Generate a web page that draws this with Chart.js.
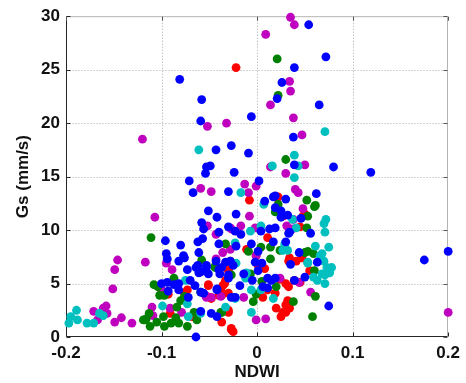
<!DOCTYPE html>
<html><head><meta charset="utf-8">
<script src="https://cdn.jsdelivr.net/npm/chart.js@4/dist/chart.umd.min.js"></script>
<style>html,body{margin:0;padding:0;background:#fff}#wrap{width:466px;height:383px}</style>
</head><body><div id="wrap"><canvas id="c" width="466" height="383"></canvas></div>
<script>
const xTickLabels = ['-0.2','-0.1','0','0.1','0.2'];
const yTickLabels = ['0','5','10','15','20','25','30'];
const xTitle = 'NDWI';
const yTitle = 'Gs (mm/s)';

const blue = [[-0.081,24.1],[-0.058,22.2],[-0.059,20.2],[-0.043,17.5],[-0.027,17.9],[-0.053,15.9],[-0.049,16.0],[-0.054,15.3],[-0.024,15.4],[-0.071,14.6],[-0.067,13.5],[-0.030,13.6],
[0.054,29.2],[0.072,26.2],[0.039,25.2],[0.026,23.8],[0.021,22.3],[0.065,21.7],[-0.006,20.6],[0.038,18.7],[-0.009,17.2],[0.039,16.1],[0.080,15.9],[0.119,15.4],[0.002,14.6],[0.062,13.4],[0.019,13.2],[0.030,12.9],[0.008,12.7],[0.017,13.1],
[-0.051,11.8],[-0.042,11.2],[-0.058,10.7],[-0.040,9.8],[-0.022,11.5],[-0.023,9.9],[-0.056,10.1],[-0.030,10.3],[-0.017,9.6],[0.013,10.1],[0.019,12.1],[0.032,11.4],[0.025,11.2],[0.046,11.1],[0.025,11.8],[0.004,9.9],[0.019,10.2],[0.034,9.8],[0.056,9.7],[0.033,9.7],
[-0.096,9.0],[-0.080,8.6],[-0.062,8.9],[-0.057,9.2],[-0.040,8.7],[-0.022,8.5],[-0.006,8.7],[0.001,8.0],[0.030,8.9],[0.017,8.9],[0.044,7.9],
[-0.095,7.8],[-0.094,7.3],[-0.082,7.1],[-0.076,7.4],[-0.077,7.6],[-0.061,7.9],[-0.043,7.1],[-0.073,6.3],[-0.062,6.7],[-0.061,6.0],[-0.053,6.5],[-0.051,5.9],[-0.037,6.5],[-0.039,5.9],[-0.025,6.7],[-0.064,6.5],[-0.059,6.1],[-0.033,7.0],[-0.028,7.1],[-0.002,7.0],[-0.014,5.9],[-0.018,4.8],[0.011,5.5],[-0.042,4.5],[-0.056,4.1],[-0.027,3.7],[-0.053,6.7],[-0.040,6.3],[-0.005,5.3],[0.001,6.2],[0.011,4.6],[-0.030,5.8],
[-0.100,5.0],[-0.094,5.1],[-0.082,5.0],[-0.087,4.9],[-0.093,4.3],[-0.082,4.4],[-0.059,4.2],[-0.072,3.7],[-0.042,4.4],[-0.030,5.5],[-0.023,3.7],[-0.059,2.4],[-0.048,2.2],[-0.042,1.9],[-0.064,0.0],[-0.065,4.8],[-0.070,5.3],
[0.063,7.0],[0.050,5.6],[0.039,5.3],[0.015,5.3],[0.019,5.5],[0.006,4.7],[0.075,2.9],[0.175,7.2],[0.200,8.0],[0.035,6.8],[0.005,6.9]];

const cyan = [[-0.061,17.5],[0.071,19.2],[0.039,17.0],[0.043,16.0],[0.016,16.0],[0.039,14.9],[-0.017,13.5],
[0.007,12.4],[0.004,10.4],[0.041,10.2],[0.070,10.6],[0.072,11.0],[0.071,9.8],[0.037,11.0],[-0.023,8.8],[-0.007,9.9],[0.029,8.5],[0.032,8.1],[0.027,8.1],[0.029,8.7],[0.061,8.5],[0.075,8.4],[0.068,7.8],[0.070,7.1],[0.066,7.6],[0.053,7.0],
[0.073,6.5],[0.078,6.5],[0.076,6.0],[0.071,5.8],[0.059,5.6],[0.063,5.3],[0.071,5.0],[0.068,5.9],[0.053,6.9],
[-0.022,6.9],[-0.012,5.5],[0.004,4.4],[-0.023,3.7],[-0.033,2.8],[-0.006,2.3],[0.017,3.6],[-0.075,5.3],[-0.099,2.9],[-0.073,3.1],[-0.072,1.9],[-0.059,2.2],[-0.023,3.6],[-0.011,6.0],[-0.006,4.4],
[-0.197,1.3],[-0.195,1.9],[-0.189,2.5],[-0.188,1.6],[-0.178,1.3],[-0.171,1.3],[-0.165,2.2],[-0.161,2.0]];

const green = [[0.021,26.0],[0.022,22.6],[0.030,16.6],[0.052,12.8],[0.061,12.3],[0.022,12.4],[0.021,11.7],[0.053,11.3],[0.060,12.2],[0.019,11.7],[0.052,10.2],
[-0.111,9.3],[-0.033,8.7],[-0.058,7.2],[-0.044,6.6],[0.024,8.1],[0.053,8.0],[0.059,7.8],[0.004,8.4],[0.014,8.4],[-0.009,8.0],[0.050,7.9],[0.014,7.3],
[-0.108,4.9],[-0.104,4.7],[-0.087,5.5],[-0.097,3.9],[-0.102,3.9],[-0.059,4.2],[-0.027,5.8],[-0.044,6.5],[-0.007,5.9],[0.005,5.2],[-0.001,4.0],[-0.004,3.3],[-0.037,2.3],[0.020,4.7],[0.060,6.2],[0.061,3.8],[0.038,3.3],[0.058,1.9],[-0.080,3.4],[-0.076,3.8],
[-0.113,2.2],[-0.119,1.6],[-0.112,1.0],[-0.105,1.4],[-0.098,1.9],[-0.090,1.3],[-0.097,1.0],[-0.084,2.8],[-0.082,1.3],[-0.073,1.0],[-0.063,1.6],[-0.038,2.3],[-0.116,1.7],[-0.085,1.8],[-0.066,2.3],[-0.117,1.6]];

const magenta = [[-0.052,19.7],[-0.032,20.0],[-0.120,18.5],[-0.059,13.9],[-0.048,13.6],
[0.035,29.9],[0.039,29.2],[0.009,28.3],[0.034,23.9],[0.035,23.0],[0.014,21.7],[0.038,20.5],[0.047,18.9],[0.050,16.1],[0.014,15.9],[0.030,15.3],[-0.013,14.3],[-0.001,14.1],[-0.009,13.5],[0.040,13.8],[0.043,13.5],
[-0.107,11.2],[-0.052,10.4],[-0.043,9.6],[-0.028,10.2],[-0.028,8.2],[-0.036,7.9],[-0.095,6.9],[-0.089,6.3],[-0.117,7.0],[-0.146,7.2],[-0.149,6.3],[-0.151,4.5],[-0.100,4.4],[-0.054,3.9],[-0.048,3.7],[-0.038,3.8],
[-0.110,2.8],[-0.109,2.0],[-0.091,2.7],[-0.079,2.3],
[-0.171,2.4],[-0.167,1.6],[-0.161,2.7],[-0.158,2.9],[-0.157,2.2],[-0.149,1.4],[-0.142,1.8],[-0.131,1.3],
[0.048,12.0],[0.038,11.0],[-0.008,11.3],[-0.017,10.4],[-0.002,10.2],[0.031,10.4],[0.037,10.1],[-0.027,10.1],[-0.043,7.3],[-0.001,7.6],[0.024,5.5],[0.044,5.1],[0.056,4.2],[-0.053,3.7],[-0.014,3.7],[-0.001,1.6],[0.009,1.7],[0.200,2.3]];

const red = [[-0.022,25.2],[0.021,13.0],[-0.008,12.8],[0.022,13.1],[0.050,11.5],[0.027,11.3],[0.048,11.3],[0.045,10.3],[0.011,9.3],[-0.011,8.2],[-0.001,7.6],[0.033,7.1],[0.041,7.1],[0.034,7.4],[0.047,7.4],
[-0.028,7.1],[-0.030,6.3],[0.001,6.7],[0.008,6.4],[-0.030,6.2],[0.055,6.2],[0.045,5.1],[0.039,5.3],[0.033,4.7],[0.011,4.4],[0.019,4.1],[0.024,5.4],[0.030,5.0],
[-0.093,4.0],[-0.073,4.4],[-0.076,4.1],[-0.051,4.9],[-0.048,3.6],[-0.040,3.9],[-0.036,4.8],[-0.034,5.0],[-0.038,4.4],[-0.030,4.1],[-0.037,3.9],[-0.051,4.8],[-0.049,3.7],[0.006,3.7],[-0.033,5.3],
[-0.091,2.2],[-0.068,1.9],[-0.030,2.5],[-0.030,2.3],[-0.037,1.4],[-0.027,0.7],[-0.025,0.5],[-0.027,0.8],
[0.025,1.9],[0.030,2.3],[0.034,2.7],[0.020,2.7],[0.032,3.4],[0.030,3.0],[0.027,2.3]];

const seriesList = [
  {data: blue, color: '#0000ff'},
  {data: cyan, color: '#00bfbf'},
  {data: green, color: '#008000'},
  {data: magenta, color: '#bf00bf'},
  {data: red, color: '#ff0000'}
];

const frame = {
  id: 'frame',
  beforeDatasetsDraw(chart) {
    const {ctx, chartArea: a, scales: {x, y}} = chart;
    const L = a.left + 0.5, R = Math.round(a.right) - 0.5, T = a.top + 0.5, B = Math.round(a.bottom) - 0.5;
    const line = (x1, y1, x2, y2) => { ctx.beginPath(); ctx.moveTo(x1, y1); ctx.lineTo(x2, y2); ctx.stroke(); };
    ctx.save();
    // grid
    ctx.strokeStyle = '#a8a8a8'; ctx.lineWidth = 1; ctx.setLineDash([1, 2]);
    x.ticks.forEach(t => { if (t.value > x.min + 1e-9 && t.value < x.max - 1e-9) { const p = Math.round(x.getPixelForValue(t.value)) + 0.5; line(p, T, p, B); } });
    y.ticks.forEach(t => { if (t.value > y.min + 1e-9 && t.value < y.max - 1e-9) { const p = Math.round(y.getPixelForValue(t.value)) + 0.5; line(L, p, R, p); } });
    ctx.setLineDash([]);
    // box
    ctx.strokeStyle = '#b4b4b4';
    line(L, T, R, T); line(R, T, R, B);
    ctx.strokeStyle = '#262626';
    line(L, T, L, B); line(L, B, R, B);
    // inward ticks
    const tl = 4;
    x.ticks.forEach(t => { const p = Math.round(x.getPixelForValue(t.value)) + 0.5; ctx.strokeStyle = '#262626'; line(p, B, p, B - tl); ctx.strokeStyle = '#555'; line(p, T, p, T + tl); });
    y.ticks.forEach(t => { const p = Math.round(y.getPixelForValue(t.value)) + 0.5; ctx.strokeStyle = '#262626'; line(L, p, L + tl, p); ctx.strokeStyle = '#555'; line(R, p, R - tl, p); });
    ctx.restore();
  }
};

const fontTick = {family: '"Liberation Sans", Arial, sans-serif', size: 17, weight: 'bold'};

new Chart(document.getElementById('c'), {
  type: 'scatter',
  data: {
    datasets: seriesList.map(s => ({
      data: s.data.map(p => ({x: p[0], y: p[1]})),
      backgroundColor: s.color,
      borderColor: s.color,
      borderWidth: 0,
      pointRadius: 4.4,
      pointHoverRadius: 4.4,
      clip: false
    }))
  },
  options: {
    responsive: false,
    animation: false,
    events: [],
    layout: {padding: {top: 14, right: 13, left: 0, bottom: 0}},
    plugins: {legend: {display: false}, tooltip: {enabled: false}},
    scales: {
      x: {
        type: 'linear', min: -0.2, max: 0.2,
        afterFit: s => { s.height = 46; },
        grid: {display: false, drawTicks: false},
        border: {display: false},
        ticks: {stepSize: 0.1, padding: 6, color: '#111', font: fontTick, maxRotation: 0,
          callback: (v, i) => xTickLabels[i]},
        title: {display: true, text: xTitle, color: '#111', font: fontTick, padding: {top: 0, bottom: 0}}
      },
      y: {
        type: 'linear', min: 0, max: 30,
        afterFit: s => { s.width = 66; },
        grid: {display: false, drawTicks: false},
        border: {display: false},
        ticks: {stepSize: 5, padding: 6, color: '#111', font: fontTick,
          callback: (v, i) => yTickLabels[i]},
        title: {display: true, text: yTitle, color: '#111', font: fontTick, padding: {top: 13, bottom: 0}}
      }
    }
  },
  plugins: [frame]
});
</script>
</body></html>
